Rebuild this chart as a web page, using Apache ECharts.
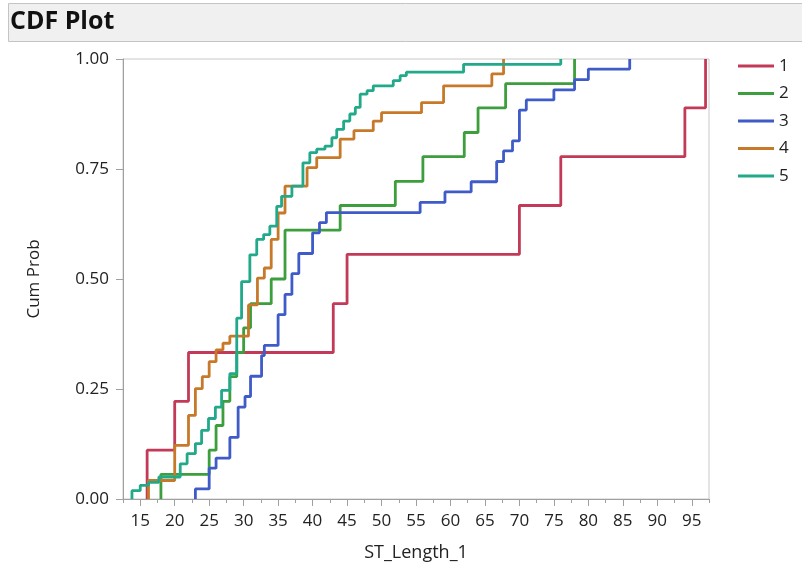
<!DOCTYPE html>
<html><head><meta charset="utf-8">
<script src="https://cdn.jsdelivr.net/npm/echarts@6/dist/echarts.min.js"></script>
<style>html,body{margin:0;padding:0;background:#fff}#c{width:802px;height:571px}</style>
</head><body><div id="c"></div>
<script>
const seriesNames = ['1', '2', '3', '4', '5'];
const seriesColors = ['#c33a58', '#3c9e3c', '#3f5bc8', '#c7792a', '#22a98a'];

// step positions (ST_Length_1) and cumulative probability after each step
const x1 = [16, 20, 22, 43, 45, 70, 76, 94, 97];
const p1 = [0.111, 0.222, 0.333, 0.444, 0.556, 0.667, 0.778, 0.889, 1.0];

const x2 = [18, 25, 26, 27, 28, 29, 30, 31, 34, 36, 44, 52, 56, 62, 64, 68, 78];
const p2 = [0.056, 0.111, 0.167, 0.222, 0.278, 0.333, 0.389, 0.444, 0.5, 0.611, 0.667, 0.722, 0.778, 0.833, 0.889, 0.944, 1.0];

const x3 = [23, 25, 26, 28, 29.2, 30.2, 31, 32.6, 33, 35, 36, 37, 38, 40, 41, 42, 55.6, 59.2, 63, 66.7, 67.7, 69, 70, 71, 75, 78, 80, 86];
const p3 = [0.023, 0.070, 0.093, 0.140, 0.209, 0.233, 0.279, 0.326, 0.349, 0.419, 0.465, 0.512, 0.558, 0.605, 0.628, 0.651, 0.674, 0.698, 0.721, 0.767, 0.791, 0.814, 0.884, 0.907, 0.930, 0.953, 0.977, 1.0];

const x4 = [16.2, 20, 22, 23, 24, 25, 26, 27, 28, 30.7, 32, 33, 34, 35, 36, 39.2, 40.6, 44, 46, 48.8, 50, 55.8, 59, 66, 67.7];
const p4 = [0.042, 0.122, 0.19, 0.251, 0.278, 0.312, 0.339, 0.354, 0.37, 0.441, 0.502, 0.525, 0.59, 0.65, 0.711, 0.753, 0.776, 0.818, 0.837, 0.859, 0.878, 0.901, 0.939, 0.966, 1.0];

const x5 = [13.8, 15, 16.2, 17.7, 20.8, 21.8, 23, 23.9, 24.9, 25.9, 26.8, 28, 29, 29.7, 30.9, 31.9, 32.9, 33.8, 34.8, 35.5, 37, 38.6, 39.6, 40.6, 41.8, 42.8, 43.5, 44.5, 45.4, 46.2, 46.9, 47.9, 48.8, 51.7, 52.7, 53.6, 61.9, 76];
const p5 = [0.019, 0.031, 0.038, 0.05, 0.08, 0.103, 0.126, 0.156, 0.183, 0.209, 0.247, 0.285, 0.411, 0.494, 0.555, 0.59, 0.601, 0.62, 0.665, 0.688, 0.711, 0.764, 0.787, 0.795, 0.802, 0.821, 0.84, 0.859, 0.875, 0.89, 0.92, 0.928, 0.939, 0.951, 0.962, 0.97, 0.988, 1.0];

const xTickLabels = [15, 20, 25, 30, 35, 40, 45, 50, 55, 60, 65, 70, 75, 80, 85, 90, 95];
const xMinorTicks = [12.5, 17.5, 22.5, 27.5, 32.5, 37.5, 42.5, 47.5, 52.5, 57.5, 62.5, 67.5, 72.5, 77.5, 82.5, 87.5, 92.5, 97.5];
const yTicks = [0, 0.25, 0.5, 0.75, 1];

const xsAll = [x1, x2, x3, x4, x5];
const psAll = [p1, p2, p3, p4, p5];

function stepData(xs, ps) {
  const d = [[xs[0], 0]];
  for (let i = 0; i < xs.length; i++) d.push([xs[i], ps[i]]);
  return d;
}

const FONT = 'Open Sans';
const chart = echarts.init(document.getElementById('c'), null, {renderer: 'canvas'});
chart.setOption({
  animation: false,
  backgroundColor: '#fff',
  textStyle: {fontFamily: FONT},
  graphic: [
    {type: 'rect', shape: {x: 8.5, y: 3.5, width: 800, height: 38}, style: {fill: '#f0f0f0', stroke: '#c4c4c4', lineWidth: 1}},
    {type: 'text', left: 10, top: 9, style: {text: 'CDF Plot', font: 'bold 25px "Open Sans"', fill: '#111'}}
  ],
  grid: {left: 123, right: 93, top: 59, bottom: 72, show: true, borderColor: '#c8c8c8', borderWidth: 1},
  legend: {
    orient: 'vertical', left: 733, top: 51, itemWidth: 36, itemHeight: 3, itemGap: 7.5,
    icon: 'rect',
    data: seriesNames,
    textStyle: {fontSize: 17, color: '#222', lineHeight: 20, fontFamily: FONT}
  },
  xAxis: [
    {
      type: 'value', min: 12.5, max: 97.5, gridIndex: 0,
      name: 'ST_Length_1', nameLocation: 'middle', nameGap: 45,
      nameTextStyle: {fontSize: 18, color: '#222'},
      axisLine: {show: true, onZero: false, lineStyle: {color: '#a0a0a0'}},
      axisTick: {show: true, length: 7, lineStyle: {color: '#a0a0a0'}, customValues: xTickLabels},
      axisLabel: {fontSize: 17, color: '#222', margin: 14, customValues: xTickLabels, showMinLabel: true, showMaxLabel: true},
      splitLine: {show: false}
    },
    {
      type: 'value', min: 12.5, max: 97.5, gridIndex: 0, position: 'bottom',
      axisLine: {show: false, onZero: false},
      axisTick: {show: true, length: 4, lineStyle: {color: '#a0a0a0'}, customValues: xMinorTicks},
      axisLabel: {show: false},
      splitLine: {show: false}
    }
  ],
  yAxis: {
    type: 'value', min: 0, max: 1,
    name: 'Cum Prob', nameLocation: 'middle', nameGap: 80,
    nameTextStyle: {fontSize: 17, color: '#222'},
    axisLine: {show: true, lineStyle: {color: '#a0a0a0'}},
    axisTick: {show: true, length: 7, lineStyle: {color: '#a0a0a0'}, customValues: yTicks},
    axisLabel: {fontSize: 17, color: '#222', margin: 14, customValues: yTicks, formatter: v => v.toFixed(2)},
    splitLine: {show: false}
  },
  series: seriesNames.map((n, i) => ({
    name: n, type: 'line', step: 'end', xAxisIndex: 0,
    data: stepData(xsAll[i], psAll[i]),
    showSymbol: false, symbol: 'none',
    color: seriesColors[i],
    lineStyle: {width: 2.8, color: seriesColors[i]},
    clip: false
  }))
});
</script>
</body></html>
